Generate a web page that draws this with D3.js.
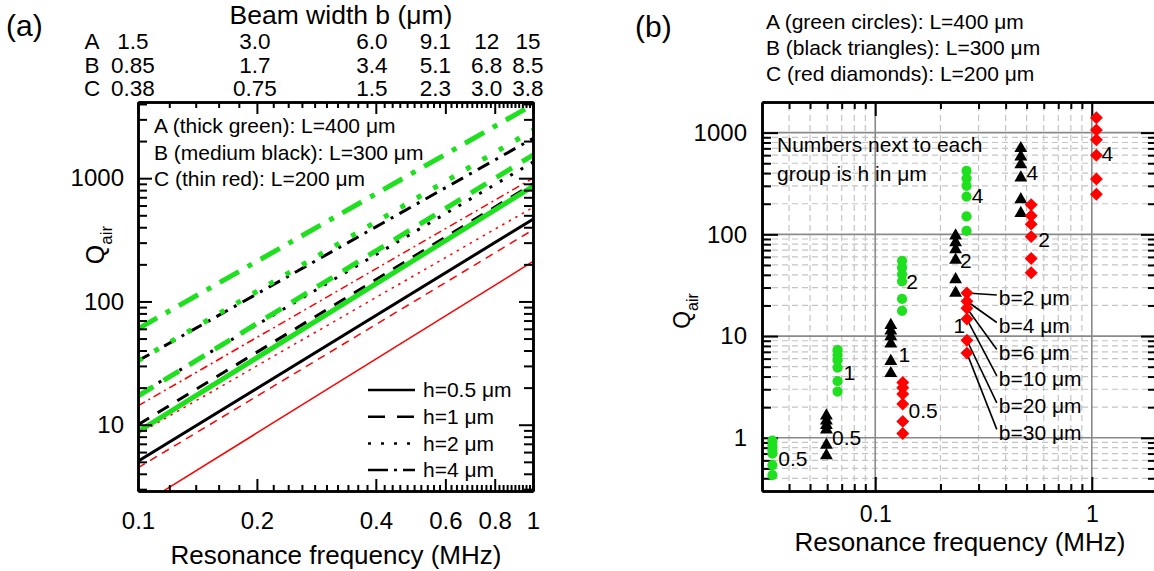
<!DOCTYPE html>
<html>
<head>
<meta charset="utf-8">
<script src="https://cdn.jsdelivr.net/npm/d3@7"></script>
<style>
body { margin: 0; background: #fff; }
svg { font-family: 'Liberation Sans', Arial, sans-serif; }
</style>
</head>
<body>
<svg id="chart" width="1154" height="571"></svg>
<script>
// ---------- data, panel (a): each model line given by Q at f=0.1 and at f=1 ----------
const lineF = [0.1, 1]
const hLegend = ['h=0.5 μm', 'h=1 μm', 'h=2 μm', 'h=4 μm']   // solid, dashed, dotted, dash-dot
const qA_lo = [8.8, 17.1, 33, 60]
const qA_hi = [860, 1540, 2450, 3950]
const qB_lo = [5.05, 10, 17.5, 33]
const qB_hi = [465, 900, 1350, 2100]
const qC_lo = [2.16, 4.47, 8.4, 14.2]
const qC_hi = [211, 381, 580, 1000]

const xTicksA = [0.1, 0.2, 0.4, 0.6, 0.8, 1]
const xTickLabelsA = ['0.1', '0.2', '0.4', '0.6', '0.8', '1']
const yTicksA = [10, 100, 1000]
const yTickLabelsA = ['10', '100', '1000']

// beam width table above panel (a)
const beamRows = ['A', 'B', 'C']
const beamA = ['1.5', '3.0', '6.0', '9.1', '12', '15']
const beamB = ['0.85', '1.7', '3.4', '5.1', '6.8', '8.5']
const beamC = ['0.38', '0.75', '1.5', '2.3', '3.0', '3.8']

// ---------- data, panel (b): resonance frequency and Q per group, b = 2..30 um ----------
const bWidths = [2, 4, 6, 10, 20, 30]
const groupH = ['0.5', '1', '2', '4']
const fA = [0.0335, 0.067, 0.133, 0.264]
const fB = [0.0595, 0.118, 0.235, 0.47]
const fC = [0.134, 0.265, 0.525, 1.05]
const qA = [
  [0.94, 0.84, 0.76, 0.70, 0.54, 0.43],
  [7.3, 6.5, 5.8, 4.9, 3.6, 2.85],
  [55, 47, 40.5, 34.5, 23.2, 17.7],
  [420, 355, 300, 235, 150, 108]
]
const qB = [
  [1.65, 1.47, 1.33, 1.2, 0.85, 0.67],
  [12.8, 11.3, 9.9, 8.4, 5.65, 4.3],
  [97, 83, 71, 56, 36, 26.5],
  [700, 580, 485, 360, 220, 161]
]
const qC = [
  [3.5, 3.1, 2.7, 2.15, 1.45, 1.1],
  [26.5, 22, 18.8, 14.7, 9.1, 6.8],
  [195, 152, 126, 95, 58, 42],
  [1400, 1060, 850, 600, 350, 248]
]
// where the h numbers sit (left edge of text, vertical centre)
const labelPosA = [[0.0357, 0.62], [0.0714, 4.39], [0.139, 34.3], [0.279, 240]]
const labelPosB = [[0.0632, 1.0], [0.128, 6.64], [0.2465, 55], [0.5, 406]]
const labelPosC = [[0.1424, 1.84], [0.2296, 12.6], [0.566, 89.7], [1.108, 615]]
// b= call-outs for the red h=1 group
const calloutF = 0.372
const calloutQ = [23.7, 12.7, 6.9, 3.79, 2.06, 1.13]

const xTicksB = [0.1, 1]
const xTickLabelsB = ['0.1', '1']
const yTicksB = [1, 10, 100, 1000]
const yTickLabelsB = ['1', '10', '100', '1000']

const green = '#1ee01e'
const red = '#ff0000'

const svg = d3.select('#chart')

function addAxis(parent, orient, scale, pos, values, size, labels, pad, fs) {
  const mk = { bottom: d3.axisBottom, top: d3.axisTop, left: d3.axisLeft, right: d3.axisRight }[orient]
  const ax = mk(scale).tickValues(values).tickSizeInner(-size).tickSizeOuter(0)
    .tickPadding(pad || 0)
    .tickFormat((d, i) => labels ? labels[i] : '')
  const t = (orient === 'bottom' || orient === 'top') ? `translate(0,${pos})` : `translate(${pos},0)`
  const g = parent.append('g').attr('transform', t).call(ax)
  g.attr('font-family', null).attr('font-size', fs || 24)
  g.select('.domain').attr('stroke-width', 2.5).attr('stroke', '#000')
  g.selectAll('.tick line').attr('stroke-width', 2).attr('stroke', '#000')
  g.selectAll('.tick text').attr('fill', '#000')
  if (!labels) g.selectAll('.tick text').remove()
  return g
}

// ================= panel (a) =================
const xA = d3.scaleLog().domain([0.1, 1]).range([138, 533])
const yA = d3.scaleLog().domain([2.9, 4150]).range([491, 102])
const pa = svg.append('g')

pa.append('clipPath').attr('id', 'clip-a').append('rect')
  .attr('x', xA.range()[0]).attr('y', yA.range()[1])
  .attr('width', xA.range()[1] - xA.range()[0]).attr('height', yA.range()[0] - yA.range()[1])

const beams = [
  { lo: qC_lo, hi: qC_hi, color: red, w: 1.5, dash: [null, '8,6', '2.5,5', '8,4,2,4'] },
  { lo: qB_lo, hi: qB_hi, color: '#000', w: 3, dash: [null, '13,10', '3,9', '13,7,3,7'] },
  { lo: qA_lo, hi: qA_hi, color: green, w: 5, dash: [null, '18,12', '5,14', '22,10,5,10'] }
]
const lineA = d3.line().x(d => xA(d[0])).y(d => yA(d[1]))
const linesG = pa.append('g').attr('clip-path', 'url(#clip-a)')
beams.forEach(b => {
  b.lo.forEach((lo, i) => {
    linesG.append('path')
      .datum([[lineF[0], lo], [lineF[1], b.hi[i]]])
      .attr('d', lineA)
      .attr('fill', 'none')
      .attr('stroke', b.color)
      .attr('stroke-width', b.w)
      .attr('stroke-dasharray', b.dash[i])
  })
})

const minorXA = d3.range(0.12, 0.19, 0.02).concat(d3.range(0.22, 0.99, 0.02))
  .filter(v => !xTicksA.some(t => Math.abs(t - v) < 1e-6))
const minorYA = yA.ticks().filter(v => !yTicksA.includes(v))

addAxis(pa, 'bottom', xA, yA.range()[0], xTicksA, 12, xTickLabelsA, 21)
addAxis(pa, 'bottom', xA, yA.range()[0], minorXA, 6)
addAxis(pa, 'top', xA, yA.range()[1], xTicksA, 12)
addAxis(pa, 'top', xA, yA.range()[1], minorXA, 6)
addAxis(pa, 'left', yA, xA.range()[0], yTicksA, 14, yTickLabelsA, 14)
addAxis(pa, 'left', yA, xA.range()[0], minorYA, 9)
addAxis(pa, 'right', yA, xA.range()[1], yTicksA, 14)
addAxis(pa, 'right', yA, xA.range()[1], minorYA, 9)

// beam width table
const colShift = [-5, -2, -4, -10, -8, -5]
pa.append('text').attr('x', 341).attr('y', 24).attr('text-anchor', 'middle')
  .attr('font-size', 26.5).text('Beam width b (μm)')
;[beamA, beamB, beamC].forEach((row, r) => {
  const yRow = 49 + r * 23.5
  pa.append('text').attr('x', 92).attr('y', yRow).attr('text-anchor', 'middle')
    .attr('font-size', 22.5).text(beamRows[r])
  row.forEach((v, i) => {
    pa.append('text').attr('x', xA(xTicksA[i]) + colShift[i]).attr('y', yRow)
      .attr('text-anchor', 'middle').attr('font-size', 22.5).text(v)
  })
})

// beam legend
const beamText = ['A (thick green): L=400 μm', 'B (medium black): L=300 μm', 'C (thin red): L=200 μm']
beamText.forEach((t, i) => {
  pa.append('text').attr('x', 154).attr('y', 133 + i * 26.7).attr('font-size', 21).text(t)
})

// h legend
const legDash = [null, '17,12', '3,10', '20,6,3,6']
hLegend.forEach((t, i) => {
  const y = 390 + i * 26.7
  pa.append('line').attr('x1', 368).attr('x2', 415).attr('y1', y).attr('y2', y)
    .attr('stroke', '#000').attr('stroke-width', 2.5).attr('stroke-dasharray', legDash[i])
  pa.append('text').attr('x', 423).attr('y', y).attr('dy', '0.35em').attr('font-size', 21).text(t)
})

pa.append('text').attr('x', 336).attr('y', 564).attr('text-anchor', 'middle')
  .attr('font-size', 26).text('Resonance frequency (MHz)')
const qa = pa.append('text').attr('transform', 'translate(104,245) rotate(-90)')
  .attr('text-anchor', 'middle').attr('font-size', 25)
qa.append('tspan').text('Q')
qa.append('tspan').attr('dy', 8).attr('font-size', 17).text('air')
pa.append('text').attr('x', 6).attr('y', 36).attr('font-size', 30).text('(a)')

// ================= panel (b) =================
const xB = d3.scaleLog().domain([0.03, 2]).range([762, 1157])
const yB = d3.scaleLog().domain([0.3, 2000]).range([491, 102])
const pb = svg.append('g')

const minorXB = xB.ticks().filter(v => !xTicksB.includes(v) && v > 0.031 && v < 1.99)
const minorYB = yB.ticks().filter(v => !yTicksB.some(t => Math.abs(t - v) < 1e-9) && v > 0.31 && v < 1990)

// grid
const grid = pb.append('g')
grid.selectAll('.vmin').data(minorXB).join('line')
  .attr('x1', d => xB(d)).attr('x2', d => xB(d)).attr('y1', yB.range()[0]).attr('y2', yB.range()[1])
  .attr('stroke', '#c4c4c4').attr('stroke-width', 1.2).attr('stroke-dasharray', '6,4')
grid.selectAll('.hmin').data(minorYB).join('line')
  .attr('y1', d => yB(d)).attr('y2', d => yB(d)).attr('x1', xB.range()[0]).attr('x2', xB.range()[1])
  .attr('stroke', '#c4c4c4').attr('stroke-width', 1.2).attr('stroke-dasharray', '6,4')
grid.selectAll('.vmaj').data(xTicksB).join('line')
  .attr('x1', d => xB(d)).attr('x2', d => xB(d)).attr('y1', yB.range()[0]).attr('y2', yB.range()[1])
  .attr('stroke', '#8a8a8a').attr('stroke-width', 1.6)
grid.selectAll('.hmaj').data(yTicksB).join('line')
  .attr('y1', d => yB(d)).attr('y2', d => yB(d)).attr('x1', xB.range()[0]).attr('x2', xB.range()[1])
  .attr('stroke', '#8a8a8a').attr('stroke-width', 1.6)

addAxis(pb, 'bottom', xB, yB.range()[0], xTicksB, 14, xTickLabelsB, 15, 23)
addAxis(pb, 'bottom', xB, yB.range()[0], minorXB, 7)
addAxis(pb, 'top', xB, yB.range()[1], xTicksB, 14)
addAxis(pb, 'top', xB, yB.range()[1], minorXB, 7)
addAxis(pb, 'left', yB, xB.range()[0], yTicksB, 16, yTickLabelsB, 15)
addAxis(pb, 'left', yB, xB.range()[0], minorYB, 9)
addAxis(pb, 'right', yB, xB.range()[1], yTicksB, 16)
addAxis(pb, 'right', yB, xB.range()[1], minorYB, 9)

// call-out leaders from red h=1 group
const cg = pb.append('g')
calloutQ.forEach((q, i) => {
  cg.append('line')
    .attr('x1', xB(fC[1])).attr('y1', yB(qC[1][i]))
    .attr('x2', xB(calloutF) - 2).attr('y2', yB(q) - 3)
    .attr('stroke', '#000').attr('stroke-width', 1.6)
  cg.append('text').attr('x', xB(calloutF)).attr('y', yB(q)).attr('dy', '0.35em')
    .attr('font-size', 21).text(`b=${bWidths[i]} μm`)
})

const sets = [
  { f: fA, q: qA, color: green, sym: d3.symbol(d3.symbolCircle, 82), rot: 0, lab: labelPosA },
  { f: fB, q: qB, color: '#000', sym: d3.symbol(d3.symbolTriangle, 72), rot: 0, lab: labelPosB },
  { f: fC, q: qC, color: red, sym: d3.symbol(d3.symbolSquare, 84), rot: 45, lab: labelPosC }
]
sets.forEach(s => {
  s.f.forEach((f, g) => {
    pb.append('g').selectAll('path').data(s.q[g]).join('path')
      .attr('d', s.sym)
      .attr('transform', d => `translate(${xB(f)},${yB(d)}) rotate(${s.rot})`)
      .attr('fill', s.color)
  })
  s.lab.forEach((p, g) => {
    pb.append('text').attr('x', xB(p[0])).attr('y', yB(p[1])).attr('dy', '0.35em')
      .attr('font-size', 21).text(groupH[g])
  })
})

pb.append('text').attr('x', 777).attr('y', 152).attr('font-size', 21).text('Numbers next to each')
pb.append('text').attr('x', 777).attr('y', 181).attr('font-size', 21).text('group is h in μm')

const setText = ['A (green circles): L=400 μm', 'B (black triangles): L=300 μm', 'C (red diamonds): L=200 μm']
setText.forEach((t, i) => {
  pb.append('text').attr('x', 766).attr('y', 29 + i * 26).attr('font-size', 21).text(t)
})

pb.append('text').attr('x', 960).attr('y', 551).attr('text-anchor', 'middle')
  .attr('font-size', 26).text('Resonance frequency (MHz)')
const qb = pb.append('text').attr('transform', 'translate(690,311) rotate(-90)')
  .attr('text-anchor', 'middle').attr('font-size', 23)
qb.append('tspan').text('Q')
qb.append('tspan').attr('dy', 8).attr('font-size', 16).text('air')
pb.append('text').attr('x', 635).attr('y', 37).attr('font-size', 30).text('(b)')
</script>
</body>
</html>
